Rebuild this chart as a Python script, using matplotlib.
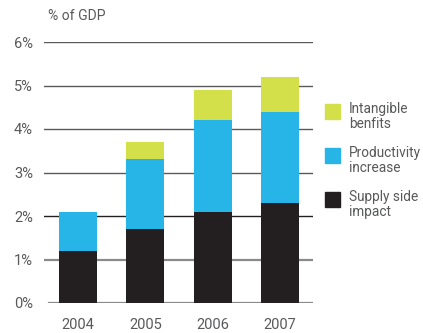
import matplotlib.pyplot as plt
from matplotlib.patches import Rectangle

# Share of GDP, stacked by source of gain
years = ['2004', '2005', '2006', '2007']
supply_side = [1.2, 1.7, 2.1, 2.3]
productivity = [0.9, 1.6, 2.1, 2.1]
intangible = [0.0, 0.4, 0.7, 0.8]

series_names = ['Intangible\nbenfits', 'Productivity\nincrease', 'Supply side\nimpact']
colors = {'supply': '#231f20', 'prod': '#27b5e8', 'intang': '#d4e04a'}
text_color = '#58595b'

plt.rcParams['font.family'] = ['Roboto', 'DejaVu Sans']

W, H = 423, 333
fig = plt.figure(figsize=(W / 100, H / 100), dpi=100)
ax = fig.add_axes([44 / W, 30 / H, 269 / W, 261 / H])

x = range(len(years))
bw = 0.565

# horizontal rules behind the bars
for level in range(7):
    if level == 2:
        c, lw, x0 = '#231f20', 1.0, 0.0
    elif level < 2:
        c, lw, x0 = '#8a8a8a', 1.6, 0.018 if level == 0 else 0.0
    else:
        c, lw, x0 = '#5a5a5a', 1.0, 0.0
    ax.axhline(level, xmin=x0, xmax=1, color=c, lw=lw, zorder=0)

bottom2 = [a + b for a, b in zip(supply_side, productivity)]
ax.bar(x, supply_side, bw, color=colors['supply'], zorder=2)
ax.bar(x, productivity, bw, bottom=supply_side, color=colors['prod'], zorder=2)
ax.bar(x, intangible, bw, bottom=bottom2, color=colors['intang'], zorder=2)

ax.set_xlim(-0.505, 3.49)
ax.set_ylim(0, 6)
for s in ax.spines.values():
    s.set_visible(False)
ax.set_xticks(list(x))
ax.set_xticklabels(years)
ax.set_yticks(range(7))
ax.set_yticklabels([f'{v}%' for v in range(7)])
ax.tick_params(length=0, labelsize=10.5, colors=text_color)
ax.tick_params(axis='y', pad=8)
ax.tick_params(axis='x', pad=11)

fig.text(48 / W, 1 - 16 / H, '% of GDP', fontsize=10, color=text_color,
         ha='left', va='center')

# legend built by hand
leg_colors = [colors['intang'], colors['prod'], colors['supply']]
leg_y = [104, 148, 192]
for name, c, y in zip(series_names, leg_colors, leg_y):
    fig.patches.append(Rectangle((325 / W, 1 - (y + 15) / H), 15 / W, 15 / H,
                                 transform=fig.transFigure, color=c))
    fig.text(349 / W, 1 - (y - 2) / H, name, fontsize=9.8, color=text_color,
             ha='left', va='top', linespacing=1.05)

fig.savefig('out.png', dpi=100)
